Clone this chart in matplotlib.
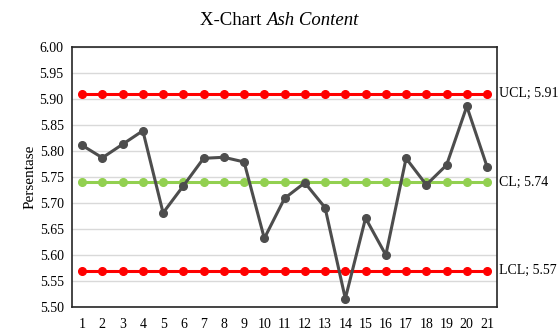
import numpy as np
import matplotlib.pyplot as plt

plt.rcParams['font.family'] = ['Liberation Serif', 'DejaVu Serif']

samples = np.arange(1, 22)
ash = [5.811, 5.787, 5.813, 5.839, 5.681, 5.733, 5.786, 5.788, 5.779, 5.632,
       5.709, 5.739, 5.691, 5.516, 5.671, 5.600, 5.786, 5.735, 5.773, 5.886, 5.770]
ucl = 5.91
cl = 5.74
lcl = 5.57

fig = plt.figure(figsize=(5.58, 3.34), dpi=100)
ax = fig.add_axes([0.129, 0.081, 0.762, 0.778])

ax.plot(samples, [ucl] * len(samples), '-o', color='#FF0000', lw=2.2, ms=5.5, zorder=3)
ax.plot(samples, [cl] * len(samples), '-o', color='#92D050', lw=2.2, ms=5.5, zorder=3)
ax.plot(samples, [lcl] * len(samples), '-o', color='#FF0000', lw=2.2, ms=5.5, zorder=3)
ax.plot(samples, ash, '-o', color='#4D4D4D', lw=2.2, ms=5.5, zorder=4)

for val, name in [(ucl, 'UCL'), (cl, 'CL'), (lcl, 'LCL')]:
    ax.text(21.6, val, f'{name}; {val:.2f}', va='center', ha='left', fontsize=10)

ax.set_xlim(0.5, 21.5)
ax.set_ylim(5.5, 6.0)
ax.set_xticks(samples)
ax.set_yticks(np.arange(5.5, 6.001, 0.05))
ax.yaxis.set_major_formatter(plt.FormatStrFormatter('%.2f'))
ax.tick_params(length=0, labelsize=10, pad=6)
ax.tick_params(axis='x', pad=8)
ax.grid(axis='y', color='#D9D9D9', lw=1)
ax.set_axisbelow(True)
for s in ax.spines.values():
    s.set_color('#262626')
    s.set_linewidth(1.2)

ax.set_ylabel('Persentase', fontsize=11, labelpad=2)

# title: plain part + italic part, centred together
t1 = fig.text(0, 0.94, 'X-Chart ', ha='left', va='center', fontsize=13.5)
t2 = fig.text(0, 0.94, 'Ash Content', ha='left', va='center', fontsize=13.5, style='italic')
r = fig.canvas.get_renderer()
w1 = t1.get_window_extent(r).width / fig.bbox.width
w2 = t2.get_window_extent(r).width / fig.bbox.width
x0 = 0.5 - (w1 + w2) / 2
t1.set_x(x0)
t2.set_x(x0 + w1)

fig.savefig('out.png', dpi=100)
